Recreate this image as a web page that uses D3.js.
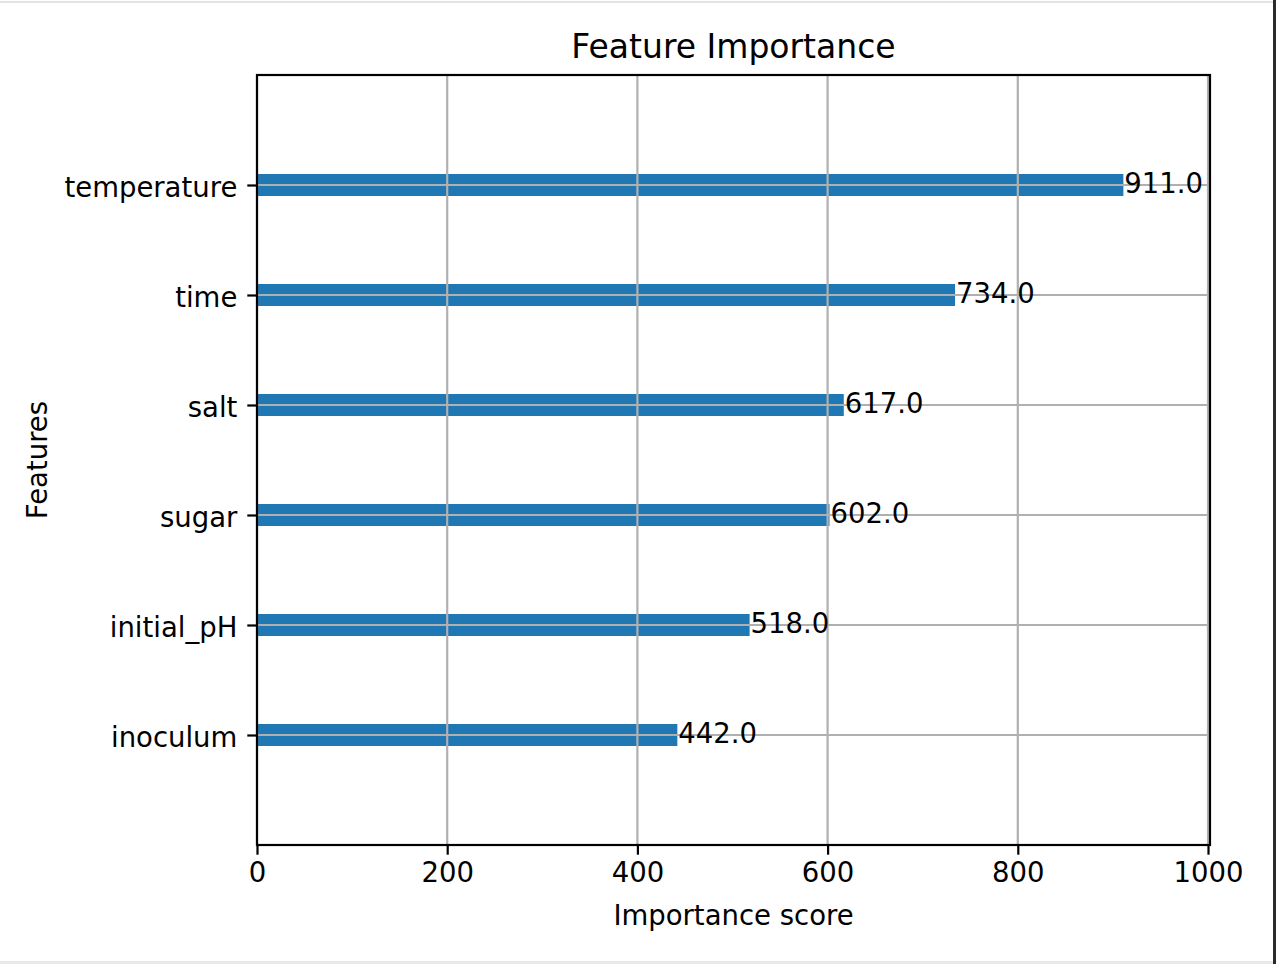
<!DOCTYPE html>
<html>
<head>
<meta charset="utf-8">
<script src="https://cdn.jsdelivr.net/npm/d3@7"></script>
<style>
  html, body { margin: 0; padding: 0; background: #fff; }
  svg { display: block; }
  text { font-family: "DejaVu Sans", sans-serif; fill: #000; }
</style>
</head>
<body>
<svg id="chart" width="1276" height="964"></svg>
<script>
// Data (bottom to top as plotted)
const features = ["inoculum", "initial_pH", "sugar", "salt", "time", "temperature"];
const scores = [442, 518, 602, 617, 734, 911];
const xTicks = [0, 200, 400, 600, 800, 1000];
const titleText = "Feature Importance";
const xLabel = "Importance score";
const yLabel = "Features";

const svg = d3.select("#chart");
const W = 1276, H = 964;
const plot = { left: 257, right: 1210, top: 75, bottom: 845 };

// frame of screenshot
svg.append("rect").attr("x", 0).attr("y", 0).attr("width", W).attr("height", H).attr("fill", "#fff");
svg.append("rect").attr("x", 0).attr("y", 1).attr("width", W).attr("height", 2).attr("fill", "#e4e4e4");
svg.append("rect").attr("x", 0).attr("y", 961).attr("width", W).attr("height", 3).attr("fill", "#e8e8e8");
svg.append("rect").attr("x", 1273).attr("y", 0).attr("width", 3).attr("height", H).attr("fill", "#2a2a2a");

const xMax = d3.max(scores) * 1.1;
const x = d3.scaleLinear().domain([0, xMax]).range([plot.left, plot.right]);
const y = d3.scaleLinear().domain([-1, features.length]).range([plot.bottom, plot.top]);
const barH = Math.abs(y(0.2) - y(0));

const fs = 27.5;

// bars
svg.append("g").selectAll("rect").data(scores).join("rect")
  .attr("x", x(0))
  .attr("y", (d, i) => y(i) - barH / 2)
  .attr("width", d => x(d) - x(0))
  .attr("height", barH)
  .attr("fill", "#1f77b4");

// grid lines
const grid = svg.append("g").attr("stroke", "#b0b0b0").attr("stroke-width", 2.2);
grid.selectAll("line.v").data(xTicks).join("line").attr("class", "v")
  .attr("x1", d => x(d)).attr("x2", d => x(d))
  .attr("y1", plot.top).attr("y2", plot.bottom);
grid.selectAll("line.h").data(features).join("line").attr("class", "h")
  .attr("x1", plot.left).attr("x2", plot.right)
  .attr("y1", (d, i) => y(i)).attr("y2", (d, i) => y(i));

// value labels
svg.append("g").selectAll("text").data(scores).join("text")
  .attr("x", d => x(d + 1))
  .attr("y", (d, i) => y(i))
  .attr("dy", "0.28em")
  .attr("font-size", fs)
  .text(d => d3.format(".1f")(d));

// axes
const xAxis = d3.axisBottom(x).tickValues(xTicks).tickSize(9.7).tickPadding(8).tickFormat(d3.format("d"));
const gx = svg.append("g").attr("transform", `translate(0,${plot.bottom})`).call(xAxis);
gx.select(".domain").remove();
gx.selectAll(".tick line").attr("stroke", "#000").attr("stroke-width", 2.2);
gx.selectAll(".tick text").attr("font-size", fs).attr("font-family", "DejaVu Sans").attr("fill", "#000");

const yAxis = d3.axisLeft(y).tickValues(d3.range(features.length)).tickSize(9.7).tickPadding(10)
  .tickFormat(i => features[i]);
const gy = svg.append("g").attr("transform", `translate(${plot.left},0)`).call(yAxis);
gy.select(".domain").remove();
gy.selectAll(".tick line").attr("stroke", "#000").attr("stroke-width", 2.2);
gy.selectAll(".tick text").attr("font-size", fs).attr("font-family", "DejaVu Sans").attr("fill", "#000")
  .attr("dy", "0.4em");

// spines
svg.append("rect")
  .attr("x", plot.left).attr("y", plot.top)
  .attr("width", plot.right - plot.left).attr("height", plot.bottom - plot.top)
  .attr("fill", "none").attr("stroke", "#000").attr("stroke-width", 2.2);

// title and labels
svg.append("text").attr("x", (plot.left + plot.right) / 2).attr("y", 58)
  .attr("text-anchor", "middle").attr("font-size", 33).text(titleText);
svg.append("text").attr("x", (plot.left + plot.right) / 2).attr("y", 925)
  .attr("text-anchor", "middle").attr("font-size", fs).text(xLabel);
svg.append("text").attr("transform", `translate(47,${(plot.top + plot.bottom) / 2}) rotate(-90)`)
  .attr("text-anchor", "middle").attr("font-size", fs).text(yLabel);
</script>
</body>
</html>
